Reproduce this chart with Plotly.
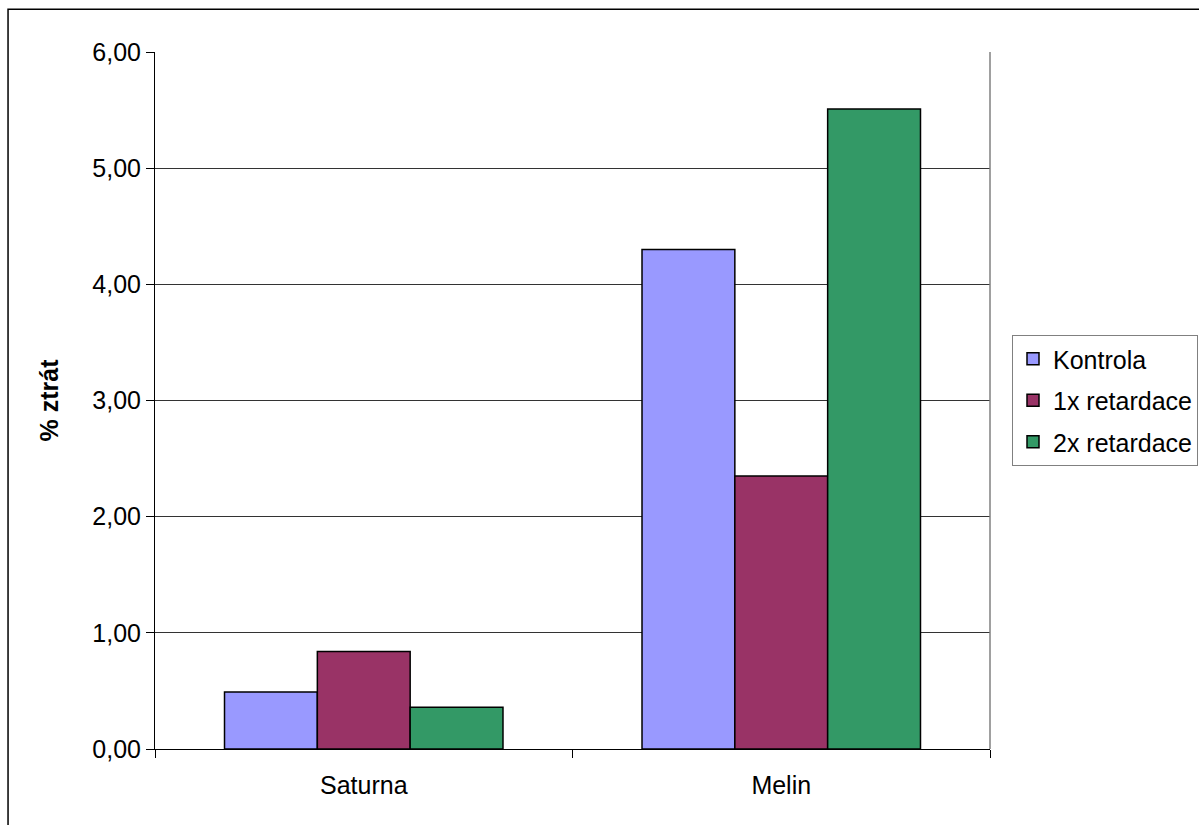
import plotly.graph_objects as go

categories = ["Saturna", "Melin"]
series_names = ["Kontrola", "1x retardace", "2x retardace"]
kontrola = [0.49, 4.30]
retard1 = [0.84, 2.35]
retard2 = [0.36, 5.51]
colors = ["#9999FF", "#993366", "#339966"]
y_ticks = [0, 1, 2, 3, 4, 5, 6]

fig = go.Figure()
for name, vals, col in zip(series_names, [kontrola, retard1, retard2], colors):
    fig.add_trace(go.Bar(
        x=categories, y=vals, name=name, legendgroup=name,
        marker=dict(color=col, line=dict(color="#000000", width=1.5)),
    ))

font = "Liberation Sans, Arial, sans-serif"
fig.update_layout(
    width=1199, height=825,
    margin=dict(l=155, r=209, t=52, b=76),
    paper_bgcolor="white", plot_bgcolor="white",
    separators=", ",
    barmode="group", bargap=0.333, bargroupgap=0,
    font=dict(family=font, size=25, color="#000000"),
    showlegend=True,
    legend=dict(
        xref="container", yref="container",
        x=1012 / 1199, y=1 - 335 / 825, xanchor="left", yanchor="top",
        bordercolor="#808080", borderwidth=1,
        font=dict(family=font, size=25, color="#000000"),
        itemwidth=30, tracegroupgap=6,
    ),
    xaxis=dict(
        showline=True, linecolor="#000000", linewidth=1,
        ticks="outside", ticklen=8, tickcolor="#000000",
        tickson="boundaries", showgrid=False,
        tickfont=dict(family=font, size=25),
        ticklabelstandoff=14,
        mirror=False,
    ),
    yaxis=dict(
        range=[0, 6], tickvals=y_ticks, tickformat=".2f",
        showline=True, linecolor="#000000", linewidth=1,
        ticks="outside", ticklen=8, tickcolor="#000000",
        showgrid=True, gridcolor="#333333", gridwidth=1,
        zeroline=False,
        tickfont=dict(family=font, size=25),
        title=dict(text="<b>% ztrát</b>", font=dict(family=font, size=25), standoff=26),
    ),
    shapes=[
        dict(type="line", xref="paper", yref="paper", x0=1, x1=1, y0=0, y1=1,
             line=dict(color="#808080", width=1.5)),
        dict(type="rect", xref="paper", yref="paper",
             x0=-0.176, x1=1.6, y0=-0.3, y1=1.0612,
             line=dict(color="#000000", width=1.5), layer="below"),
    ],
)

fig.write_html("out.html")
